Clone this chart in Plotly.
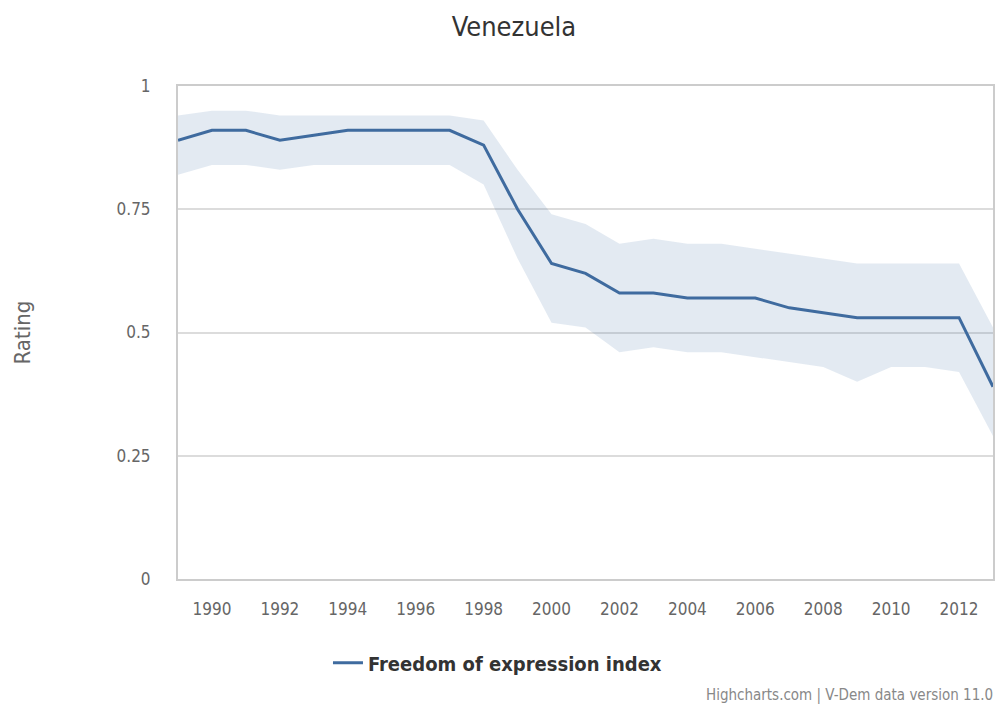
import plotly.graph_objects as go

years = list(range(1989, 2014))
index_values = [0.89, 0.91, 0.91, 0.89, 0.90, 0.91, 0.91, 0.91, 0.91, 0.88,
                0.75, 0.64, 0.62, 0.58, 0.58, 0.57, 0.57, 0.57, 0.55, 0.54,
                0.53, 0.53, 0.53, 0.53, 0.39]
upper_values = [0.94, 0.95, 0.95, 0.94, 0.94, 0.94, 0.94, 0.94, 0.94, 0.93,
                0.83, 0.74, 0.72, 0.68, 0.69, 0.68, 0.68, 0.67, 0.66, 0.65,
                0.64, 0.64, 0.64, 0.64, 0.51]
lower_values = [0.82, 0.84, 0.84, 0.83, 0.84, 0.84, 0.84, 0.84, 0.84, 0.80,
                0.65, 0.52, 0.51, 0.46, 0.47, 0.46, 0.46, 0.45, 0.44, 0.43,
                0.40, 0.43, 0.43, 0.42, 0.29]
y_ticks = [0, 0.25, 0.5, 0.75, 1]
y_tick_labels = ["0", "0.25", "0.5", "0.75", "1"]
x_ticks = list(range(1990, 2013, 2))

FONT = "DejaVu Sans Condensed, DejaVu Sans, sans-serif"

fig = go.Figure()
fig.add_trace(go.Scatter(x=years, y=upper_values, mode="lines",
                         line=dict(width=0, color="rgba(0,0,0,0)"),
                         showlegend=False, hoverinfo="skip"))
fig.add_trace(go.Scatter(x=years, y=lower_values, mode="lines",
                         line=dict(width=0, color="rgba(0,0,0,0)"),
                         fill="tonexty", fillcolor="rgba(69,114,167,0.15)",
                         showlegend=False, hoverinfo="skip"))
fig.add_trace(go.Scatter(x=years, y=index_values, mode="lines",
                         name="Freedom of expression index",
                         line=dict(color="#3f6b9f", width=3)))

fig.update_layout(
    width=998, height=711,
    margin=dict(l=178, r=3, t=86, b=132),
    paper_bgcolor="white", plot_bgcolor="white",
    font=dict(family=FONT, color="#555"),
    title=dict(text="Venezuela", x=0.515, xanchor="center", y=0.962, yanchor="middle",
               font=dict(size=27, color="#333", family=FONT)),
    showlegend=True,
    legend=dict(orientation="h", x=0.392, xanchor="center", y=-0.17, yanchor="middle",
                font=dict(size=20, color="#333", family="DejaVu Sans Condensed, DejaVu Sans, sans-serif",
                          weight="bold")),
    xaxis=dict(range=[1989, 2013], tickmode="array", tickvals=x_ticks,
               showgrid=False, zeroline=False,
               showline=True, linecolor="#cccccc", linewidth=2, mirror=True,
               ticks="", ticklabelstandoff=14,
               tickfont=dict(size=17, color="#666")),
    yaxis=dict(range=[0, 1], tickmode="array", tickvals=y_ticks, ticktext=y_tick_labels,
               showgrid=True, gridcolor="#dcdcdc", gridwidth=2, zeroline=False,
               showline=True, linecolor="#cccccc", linewidth=2, mirror=True,
               ticks="", ticklabelstandoff=22,
               tickfont=dict(size=17, color="#666")),
    annotations=[dict(text="Highcharts.com | V-Dem data version 11.0",
                      xref="paper", yref="paper", x=1.002, xanchor="right",
                      y=-0.236, yanchor="middle", showarrow=False,
                      font=dict(size=15, color="#888", family=FONT)),
                 dict(text="Rating", textangle=-90, xref="paper", yref="paper",
                      x=-0.208, xanchor="left", y=0.5, yanchor="middle",
                      showarrow=False, font=dict(size=22, color="#666", family=FONT))],
)

fig.write_html("out.html")
